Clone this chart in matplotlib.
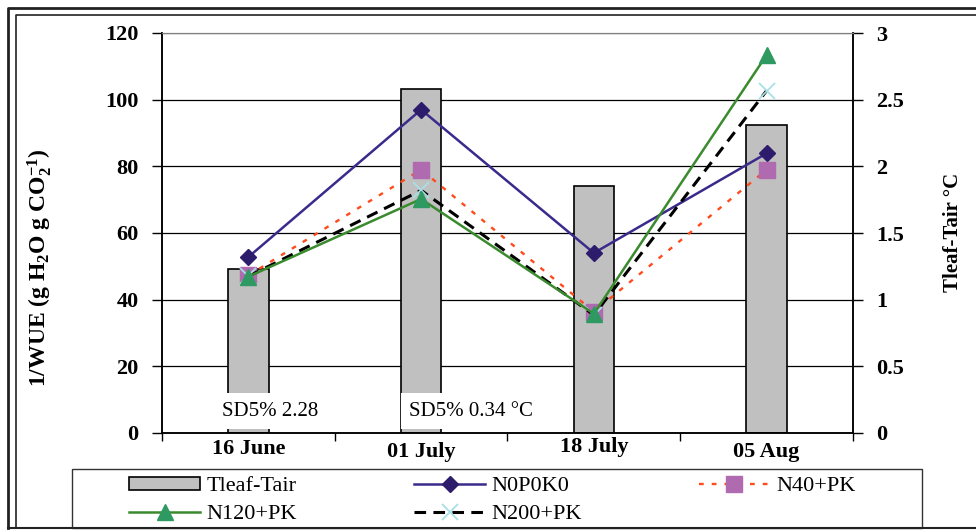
import matplotlib
matplotlib.use("Agg")
import matplotlib.pyplot as plt
from matplotlib.lines import Line2D
from matplotlib.patches import Rectangle
import matplotlib.transforms as mtransforms
import numpy as np

# ---- data ----
dates = ["16 June", "01 July", "18 July", "05 Aug"]
tleaf_tair = [1.23, 2.58, 1.85, 2.31]
n0p0k0 = [52.8, 97.0, 54.0, 83.9]
n40pk = [47.3, 79.0, 36.4, 79.0]
n120pk = [46.9, 70.2, 35.8, 113.4]
n200pk = [47.0, 72.8, 35.4, 102.7]
left_ticks = [0, 20, 40, 60, 80, 100, 120]
right_ticks = [0, 0.5, 1, 1.5, 2, 2.5, 3]
right_tick_labels = ["0", "0.5", "1", "1.5", "2", "2.5", "3"]
sd_labels = ["SD5% 2.28", "SD5% 0.34 °C"]

plt.rcParams['font.family'] = ['Liberation Serif', 'DejaVu Serif']
plt.rcParams['mathtext.fontset'] = 'custom'
plt.rcParams['mathtext.rm'] = 'Liberation Serif:bold'
plt.rcParams['mathtext.bf'] = 'Liberation Serif:bold'
plt.rcParams['mathtext.it'] = 'Liberation Serif:bold'

W, H = 976, 530
fig = plt.figure(figsize=(W / 100, H / 100), dpi=100)
fig.patch.set_facecolor('white')

L, R, T, B = 162, 853, 33, 433
ax = fig.add_axes([L / W, 1 - B / H, (R - L) / W, (B - T) / H])
ax2 = ax.twinx()
ax2.set_zorder(1)
ax.set_zorder(2)
ax.patch.set_visible(False)
ax2.patch.set_visible(False)

x = np.arange(len(dates))

# bars on right axis
bars = ax2.bar(x, tleaf_tair, width=0.235, color='#C0C0C0', edgecolor='black',
               linewidth=1.2, zorder=2, label='Tleaf-Tair')
ax2.set_ylim(0, 3)
ax2.set_yticks(right_ticks)
ax2.set_yticklabels(right_tick_labels)
for yv in right_ticks[1:-1]:
    ax2.axhline(yv, color='black', lw=0.9, zorder=0)
ax2.axhline(3, color='#808080', lw=1.0, zorder=0)

# lines on left axis
l1, = ax.plot(x, n0p0k0, color='#3B2A8C', lw=1.8, marker='D', ms=8,
              mfc='#2D1B6B', mec='#2D1B6B', label='N0P0K0', zorder=3)
l2, = ax.plot(x, n40pk, color='#FF4A1C', lw=1.7, ls=(0, (2, 3.4)), marker='s', ms=11,
              mfc='#B06AB0', mec='#B06AB0', label='N40+PK', zorder=3)
l3, = ax.plot(x, n120pk, color='#3A8A2E', lw=1.8, marker='^', ms=11,
              mfc='#2E9960', mec='#2E9960', label='N120+PK', zorder=4)
l4, = ax.plot(x, n200pk, color='black', lw=2.2, ls=(0, (3.8, 2.4)), marker='x', ms=12,
              mec='#A8E0E8', mew=1.3, label='N200+PK', zorder=3)

ax.set_ylim(0, 120)
ax.set_yticks(left_ticks)
ax.set_xlim(-0.5, len(dates) - 0.5)

# x ticks
ax.set_xticks(x)
ax.set_xticklabels(dates)
ax.set_xticks(np.arange(-0.5, len(dates), 1.0), minor=True)
ax.tick_params(axis='x', which='major', length=0, pad=4)
ax.tick_params(axis='x', which='minor', length=6, width=1, direction='out')
ax.tick_params(axis='y', length=7, width=1, direction='out', pad=10)
ax2.tick_params(axis='y', length=7, width=1, direction='out', pad=10)

for lab in ax.get_xticklabels() + ax.get_yticklabels() + ax2.get_yticklabels():
    lab.set_fontsize(16)
    lab.set_fontweight('bold')

offs = [0, 3, -2, 3]
for lab, o in zip(ax.get_xticklabels(), offs):
    lab.set_transform(lab.get_transform() +
                      mtransforms.ScaledTranslation(0, -o / 100, fig.dpi_scale_trans))

for a in (ax, ax2):
    a.spines['top'].set_color('#808080')
    for s in ('left', 'right', 'bottom'):
        a.spines[s].set_color('black')
        a.spines[s].set_linewidth(1.1)

# SD annotations
for xi, txt in zip([0.125, 1.29], sd_labels):
    ax.text(xi, 6.6, txt, ha='center', va='center', fontsize=15, zorder=5,
            bbox=dict(facecolor='white', edgecolor='none', pad=6))

# axis titles
fig.text(40 / W, 1 - 268 / H, r'1/WUE (g H$_2$O g CO$_2^{-1}$)', rotation=90,
         ha='center', va='center', fontsize=17, fontweight='bold')
fig.text(953 / W, 1 - 232 / H, 'Tleaf-Tair °C', rotation=90,
         ha='center', va='center', fontsize=15, fontweight='bold')

# legend
handles = [bars.patches[0], l3, l1, l4, l2]
labels = ['Tleaf-Tair', 'N120+PK', 'N0P0K0', 'N200+PK', 'N40+PK']
leg = fig.legend(handles, labels, ncol=3, loc='upper left',
                 bbox_to_anchor=(129 / W, 1 - 477 / H), frameon=False,
                 fontsize=16, handlelength=3.2, handletextpad=0.3,
                 columnspacing=5.25, labelspacing=0.4, handleheight=0.5,
                 borderpad=0, borderaxespad=0, numpoints=1)
fig.add_artist(Rectangle((72 / W, 1 - 528 / H), 850 / W, 59 / H, transform=fig.transFigure,
                         facecolor='none', edgecolor='#333333', lw=1.0))

# figure frame
def fl(xs, ys, lw):
    fig.add_artist(Line2D([v / W for v in xs], [1 - v / H for v in ys],
                          transform=fig.transFigure, color='#222222', lw=lw))
fl([8, 8, 976], [528, 8, 8], 2.0)
fl([16, 16, 976], [528, 15, 15], 1.2)
fl([8, 976], [528, 528], 1.5)

fig.savefig('out.png', dpi=100)
